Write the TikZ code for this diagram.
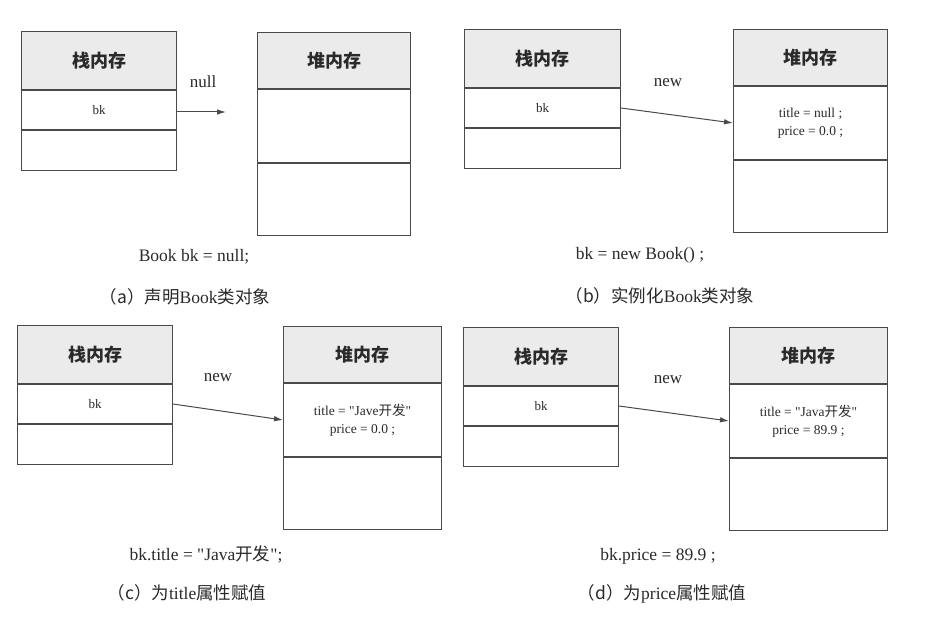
\documentclass[tikz,border=0pt]{standalone}
\usepackage{fontspec}
\setmainfont{Liberation Serif}[Ligatures=TeXOff]
\newfontfamily\cjk{Noto Sans CJK SC}
\usetikzlibrary{arrows.meta}
\definecolor{ln}{HTML}{4A4A4A}
\definecolor{hd}{HTML}{EBEBEB}
\definecolor{txt}{HTML}{2A2A2A}
\newcommand\stackmem[4]{%
  \node[hdr, minimum width=#4pt, minimum height=58pt, anchor=north west] (#1h) at (#2,#3) {栈内存};
  \node[cell, minimum width=#4pt, minimum height=39pt, anchor=north] (#1m) at (#1h.south) {bk};
  \node[cell, minimum width=#4pt, minimum height=40pt, anchor=north] (#1b) at (#1m.south) {};
}
\newcommand\heapmem[5]{%
  \node[hdr, minimum width=#4pt, minimum height=56pt, anchor=north west] (#1h) at (#2,#3) {堆内存};
  \node[field, minimum width=#4pt, minimum height=73pt, anchor=north] (#1m) at (#1h.south) {#5};
  \node[cell, minimum width=#4pt, minimum height=72pt, anchor=north] (#1b) at (#1m.south) {};
}
\begin{document}
\begin{tikzpicture}[x=1pt,y=-1pt,
  box/.style={draw=ln, line width=1pt, inner sep=0pt, text=txt},
  hdr/.style={box, fill=hd, font=\cjk\bfseries\fontsize{18}{20}\selectfont},
  cell/.style={box, font=\fontsize{13}{15}\selectfont},
  field/.style={box, align=center, font=\fontsize{13.5}{18}\selectfont},
  lbl/.style={text=txt, font=\fontsize{17}{19}\selectfont},
  captxt/.style={text=txt, font=\fontsize{17.5}{20}\selectfont},
  ptr/.style={draw=ln, line width=1pt, -{Latex[length=9pt,width=5.5pt]}}]
\useasboundingbox[fill=white] (0,0) rectangle (934,623);

% (a)
\stackmem{as}{21}{31}{155}
\heapmem{ah}{257}{32}{153}{}
\coordinate (aend) at (226,112);
\draw[ptr] (asm.east |- aend) -- (aend);
\node[lbl] (anull) at (203,82) {null};
\node[captxt] (acode) at (194,257) {Book bk = null;};
\node[captxt] (acap) at (185,297) {{\cjk （a）声明}Book{\cjk 类对象}};

% (b)
\stackmem{bs}{464}{29}{156}
\heapmem{bh}{733}{29}{154}{title = null ;\\price = 0.0 ;}
\draw[ptr] (bsm.east) -- (bhm.west);
\node[lbl] (bnew) at (668,83) {new};
\node[captxt] (bcode) at (640,255) {bk = new Book() ;};
\node[captxt] (bcap) at (660,296) {{\cjk （b）实例化}Book{\cjk 类对象}};

% (c)
\stackmem{cs}{17}{325}{155}
\heapmem{ch}{283}{326}{158}{title = "Jave{\cjk 开发}"\\price = 0.0 ;}
\draw[ptr] (csm.east) -- (chm.west);
\node[lbl] (cnew) at (218,378) {new};
\node[captxt] (ccode) at (206,554) {bk.title = "Java{\cjk 开发}";};
\node[captxt] (ccap) at (187,593) {{\cjk （c）为}title{\cjk 属性赋值}};

% (d)
\stackmem{ds}{463}{327}{155}
\heapmem{dh}{729}{327}{158}{title = "Java{\cjk 开发}"\\price = 89.9 ;}
\draw[ptr] (dsm.east) -- (dhm.west);
\node[lbl] (dnew) at (668,380) {new};
\node[captxt] (dcode) at (658,556) {bk.price = 89.9 ;};
\node[captxt] (dcap) at (662,594) {{\cjk （d）为}price{\cjk 属性赋值}};
\end{tikzpicture}
\end{document}
